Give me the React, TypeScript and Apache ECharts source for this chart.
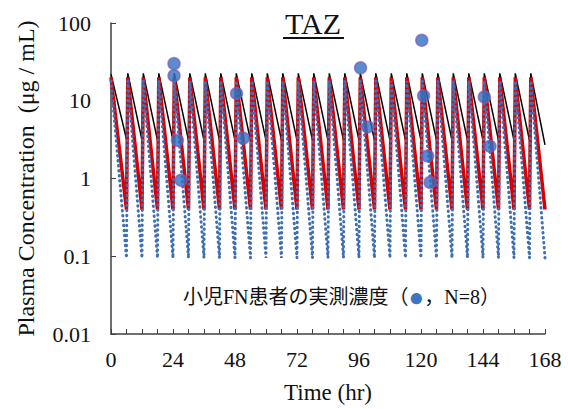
import React, { useEffect, useRef } from "react";
import * as echarts from "echarts";

const peakTimes = [0, 6.5, 12.5, 18.5, 24.5, 30.5, 36.5, 42.5, 48.5, 54.5, 60.5, 66.5, 72.5, 78.5, 84.5, 90.5, 96.5, 102.5, 108.5, 114.5, 120.5, 126.5, 132.5, 138.5, 144.5, 150.5, 156.5, 162.5];
const troughTimes = [6, 12, 18, 24, 30, 36, 42, 48, 54, 60, 66, 72, 78, 84, 90, 96, 102, 108, 114, 120, 126, 132, 138, 144, 150, 156, 162, 168];

const blackPeaks = [22, 22.5, 22.5, 22.5, 22.5, 22.5, 22.5, 22.5, 22.5, 22.5, 22.5, 22.5, 22.5, 22.5, 22.5, 22.5, 22.5, 22.5, 22.5, 22.5, 22.5, 22.5, 22.5, 22.5, 22.5, 22.5, 22.5, 22.5];
const blackTroughs = [3.2, 3.1, 3.1, 3.1, 3.1, 3.1, 3.1, 3.1, 3.1, 3.1, 3.1, 3.1, 3.1, 3.1, 3.1, 3.1, 3.1, 3.1, 3.1, 3.1, 3.1, 3.1, 3.1, 3.1, 3.1, 3.1, 3.1, 2.7];
const redPeaks = [20, 20, 20, 20, 20, 20, 20, 20, 20, 20, 20, 20, 20, 20, 20, 20, 20, 20, 20, 20, 20, 20, 20, 20, 20, 20, 20, 20];
const redTroughs = [0.4, 0.4, 0.4, 0.4, 0.4, 0.4, 0.4, 0.4, 0.4, 0.4, 0.4, 0.4, 0.4, 0.4, 0.4, 0.4, 0.4, 0.4, 0.4, 0.4, 0.4, 0.4, 0.4, 0.4, 0.4, 0.4, 0.4, 0.4];
const bluePeaks = [18, 18, 18, 18, 18, 18, 18, 18, 18, 18, 18, 18, 18, 18, 18, 18, 18, 18, 18, 18, 18, 18, 18, 18, 18, 18, 18, 18];
const blueTroughs = [0.095, 0.095, 0.095, 0.095, 0.095, 0.095, 0.095, 0.095, 0.095, 0.095, 0.095, 0.095, 0.095, 0.095, 0.095, 0.095, 0.095, 0.095, 0.095, 0.095, 0.095, 0.095, 0.095, 0.095, 0.095, 0.095, 0.095, 0.095];

const obsTimes = [24.4, 24.4, 25.7, 27.1, 48.6, 51.2, 96.6, 99.4, 120.3, 121.0, 122.6, 123.5, 144.5, 146.7];
const obsValues = [30, 21, 3.1, 0.95, 12.4, 3.3, 26.5, 4.6, 60, 11.6, 1.95, 0.89, 11.2, 2.6];

const xTicks = [0, 24, 48, 72, 96, 120, 144, 168];
const yTicks = [0.01, 0.1, 1, 10, 100];

function sawtooth(peaks: number[], troughs: number[]) {
  const out: number[][] = [];
  for (let i = 0; i < peakTimes.length; i++) {
    out.push([peakTimes[i], peaks[i]]);
    out.push([troughTimes[i], troughs[i]]);
  }
  return out;
}

const SERIF = "'Liberation Serif', 'Times New Roman', 'Noto Sans CJK JP', serif";

export default function App() {
  const ref = useRef<HTMLDivElement>(null);
  useEffect(() => {
    document.body.style.margin = "0";
    if (!ref.current) return;
    const chart = echarts.init(ref.current, null, { renderer: "svg" });
    chart.setOption({
      animation: false,
      backgroundColor: "#ffffff",
      grid: { left: 111, right: 23, top: 23, bottom: 74, containLabel: false },
      xAxis: {
        type: "value",
        min: 0,
        max: 168,
        interval: 6,
        name: "Time (hr)",
        nameLocation: "middle",
        nameGap: 47,
        nameTextStyle: { fontFamily: SERIF, fontSize: 23, color: "#111" },
        axisLine: { show: true, lineStyle: { color: "#404040", width: 1.5 } },
        axisTick: { show: true, inside: true, length: 5, lineStyle: { color: "#404040", width: 1 } },
        axisLabel: {
          fontFamily: SERIF,
          fontSize: 22,
          color: "#111",
          margin: 14,
          formatter: (v: number) => (xTicks.indexOf(v) >= 0 ? String(v) : ""),
        },
        splitLine: { show: false },
      },
      yAxis: {
        type: "log",
        logBase: 10,
        min: yTicks[0],
        max: yTicks[yTicks.length - 1],
        name: "Plasma Concentration  (μg / mL)",
        nameLocation: "middle",
        nameRotate: 90,
        nameGap: 73,
        nameTextStyle: { fontFamily: SERIF, fontSize: 24, color: "#111" },
        axisLine: { show: true, lineStyle: { color: "#404040", width: 1.5 } },
        axisTick: { show: true, inside: true, length: 5, lineStyle: { color: "#404040", width: 1 } },
        axisLabel: {
          fontFamily: SERIF,
          fontSize: 22,
          color: "#111",
          margin: 20,
          formatter: (v: number) => String(v),
        },
        splitLine: { show: false },
      },
      graphic: [
        {
          type: "text",
          x: 313,
          y: 23,
          style: {
            text: "TAZ",
            font: "30px 'Liberation Serif', serif",
            fill: "#111",
            textAlign: "center",
            textVerticalAlign: "middle",
          },
        },
        {
          type: "line",
          shape: { x1: 283, y1: 38, x2: 344, y2: 38 },
          style: { stroke: "#111", lineWidth: 2 },
        },
        {
          type: "text",
          x: 183,
          y: 297,
          style: {
            text: "小児FN患者の実測濃度（{d|●}，N=8）",
            font: "20px " + SERIF,
            fill: "#111",
            textVerticalAlign: "middle",
            rich: { d: { fill: "#3a76c4", fontSize: 26, fontFamily: SERIF } },
          },
        },
      ],
      series: [
        {
          type: "line",
          data: sawtooth(blackPeaks, blackTroughs),
          symbol: "none",
          lineStyle: { color: "#000000", width: 1.5 },
          z: 2,
        },
        {
          type: "line",
          data: sawtooth(redPeaks, redTroughs),
          symbol: "none",
          lineStyle: { color: "#d80000", width: 3.5 },
          z: 3,
        },
        {
          type: "line",
          data: sawtooth(bluePeaks, blueTroughs),
          symbol: "none",
          lineStyle: { color: "#3f6fb3", width: 3, type: [0.5, 4.5], cap: "round" },
          z: 4,
        },
        {
          type: "scatter",
          data: obsTimes.map((t, i) => [t, obsValues[i]]),
          symbol: "circle",
          symbolSize: 12,
          itemStyle: { color: "#2e72c4", borderColor: "rgba(130,85,175,0.85)", borderWidth: 1.5 },
          z: 5,
        },
      ],
    });
    return () => chart.dispose();
  }, []);
  return <div ref={ref} style={{ width: 568, height: 409 }} />;
}
